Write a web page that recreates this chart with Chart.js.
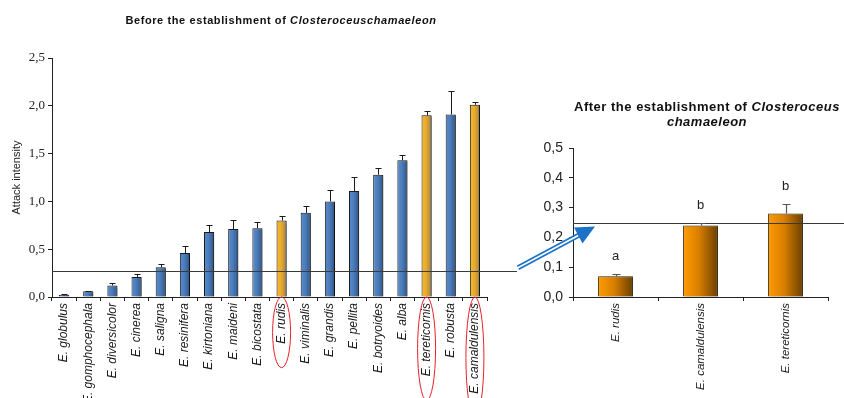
<!DOCTYPE html>
<html>
<head>
<meta charset="utf-8">
<script src="https://cdn.jsdelivr.net/npm/chart.js@4.4.1/dist/chart.umd.min.js"></script>
<style>
  html, body { margin: 0; padding: 0; background: #fff; }
  #wrap { position: relative; width: 844px; height: 398px; overflow: hidden; font-family: "Liberation Sans", Arial, sans-serif; }
  canvas { position: absolute; top: 0; }
  #before { left: 0; }
  #after { left: 520px; }
  #overlay { left: 0; pointer-events: none; }
  .title { position: absolute; font-weight: bold; color: #111; white-space: nowrap; text-align: center; }
  #t1 { left: 0; width: 562px; top: 13px; font-size: 11px; line-height: 14px; letter-spacing: 0.6px; }
  #t2 { left: 557px; width: 300px; top: 99px; font-size: 13px; line-height: 15px; letter-spacing: 0.5px; }
</style>
</head>
<body>
<div id="wrap">
  <canvas id="before" width="530" height="398"></canvas>
  <canvas id="after" width="324" height="398"></canvas>
  <canvas id="overlay" width="844" height="398"></canvas>
  <div class="title" id="t1">Before the establishment of <i>Closteroceuschamaeleon</i></div>
  <div class="title" id="t2">After the establishment of <i>Closteroceus</i><br><i>chamaeleon</i></div>
</div>
<script>
// ---- attack intensity before the establishment of the wasp ----
const beforeSpecies = ['E. globulus', 'E. gomphocephala', 'E. diversicolor', 'E. cinerea', 'E. saligna',
  'E. resinifera', 'E. kirtoniana', 'E. maideni', 'E. bicostata', 'E. rudis', 'E. viminalis', 'E. grandis',
  'E. pellita', 'E. botryoides', 'E. alba', 'E. tereticornis', 'E. robusta', 'E. camaldulensis'];
const beforeMean  = [0.02, 0.06, 0.12, 0.21, 0.31, 0.46, 0.68, 0.71, 0.72, 0.80, 0.88, 1.00, 1.11, 1.28, 1.43, 1.90, 1.91, 2.01];
const beforeError = [0.01, 0.005, 0.03, 0.03, 0.04, 0.07, 0.07, 0.10, 0.06, 0.05, 0.07, 0.12, 0.15, 0.07, 0.06, 0.05, 0.24, 0.03];
const highlighted = ['E. rudis', 'E. tereticornis', 'E. camaldulensis'];
const beforeTicks = ['0,0', '0,5', '1,0', '1,5', '2,0', '2,5'];
const beforeThreshold = 0.275;

// ---- attack intensity after the establishment ----
const afterSpecies = ['E. rudis', 'E. camaldulensis', 'E. tereticornis'];
const afterMean    = [0.07, 0.24, 0.28];
const afterError   = [0.007, 0.007, 0.032];
const afterGroups  = ['a', 'b', 'b'];
const afterTicks   = ['0,0', '0,1', '0,2', '0,3', '0,4', '0,5'];
const afterThreshold = 0.25;

Chart.defaults.font.family = '"Liberation Sans", Arial, sans-serif';
Chart.defaults.color = '#222';

const BLUE = [[0, '#5A8CCB'], [0.45, '#4B7CBC'], [0.8, '#3A6499'], [1, '#2A4468']];
const GOLD = [[0, '#F6B82A'], [0.45, '#EAAC2A'], [0.8, '#B89040'], [1, '#6F6A62']];
const ORANGE = [[0, '#FF9A00'], [0.45, '#D98000'], [1, '#6A3F00']];

// horizontal left-to-right gradient spanning one bar
function barFill(stopsFor) {
  return (c) => {
    const chart = c.chart;
    const xs = chart.scales.x;
    const fallback = stopsFor(c.dataIndex || 0)[1][1];
    if (!xs || c.dataIndex === undefined) return fallback;
    const ds = chart.data.datasets[0];
    const n = chart.data.labels.length;
    const w = (xs.right - xs.left) / n * ds.barPercentage * ds.categoryPercentage;
    const cx = xs.getPixelForValue(c.dataIndex);
    if (!isFinite(w) || !isFinite(cx) || w <= 0) return fallback;
    const g = chart.ctx.createLinearGradient(cx - w / 2, 0, cx + w / 2, 0);
    stopsFor(c.dataIndex).forEach(([o, col]) => g.addColorStop(o, col));
    return g;
  };
}

// soft drop shadow behind the bars
const barShadow = {
  id: 'barShadow',
  beforeDatasetDraw(chart) {
    const ctx = chart.ctx;
    ctx.save();
    ctx.shadowColor = 'rgba(0,0,0,0.35)';
    ctx.shadowOffsetX = 2;
    ctx.shadowOffsetY = 1;
    ctx.shadowBlur = 2;
  },
  afterDatasetDraw(chart) { chart.ctx.restore(); }
};

// upper half error bars
const errorBars = {
  id: 'errorBars',
  afterDatasetsDraw(chart, args, opts) {
    const meta = chart.getDatasetMeta(0);
    const ys = chart.scales.y;
    const data = chart.data.datasets[0].data;
    const ctx = chart.ctx;
    ctx.save();
    ctx.strokeStyle = opts.color;
    ctx.lineWidth = opts.width;
    meta.data.forEach((bar, i) => {
      const x = Math.round(bar.x) + 0.5;
      const y0 = ys.getPixelForValue(data[i]);
      const y1 = Math.round(ys.getPixelForValue(data[i] + opts.errors[i])) + 0.5;
      ctx.beginPath();
      ctx.moveTo(x, y0);
      ctx.lineTo(x, y1);
      ctx.moveTo(x - opts.cap, y1);
      ctx.lineTo(x + opts.cap, y1);
      ctx.stroke();
      if (opts.letters) {
        ctx.fillStyle = '#222';
        ctx.font = '13px "Liberation Sans", Arial, sans-serif';
        ctx.textAlign = 'center';
        ctx.textBaseline = 'middle';
        ctx.fillText(opts.letters[i], bar.x, y1 - 18);
      }
    });
    ctx.restore();
  }
};

// threshold reference line
const thresholdLine = {
  id: 'thresholdLine',
  afterDatasetsDraw(chart, args, opts) {
    const ctx = chart.ctx;
    const y = Math.round(chart.scales.y.getPixelForValue(opts.value)) + 0.5;
    const x1 = opts.toEdge ? chart.width : chart.chartArea.right + opts.extend;
    ctx.save();
    ctx.strokeStyle = '#3a3a3a';
    ctx.lineWidth = 1.2;
    ctx.beginPath();
    ctx.moveTo(chart.chartArea.left, y);
    ctx.lineTo(x1, y);
    ctx.stroke();
    ctx.restore();
  }
};

// red ellipses around selected species names
const labelRings = {
  id: 'labelRings',
  afterDraw(chart, args, opts) {
    const xs = chart.scales.x;
    const ctx = chart.ctx;
    ctx.save();
    ctx.font = 'italic ' + opts.size + 'px "Liberation Sans", Arial, sans-serif';
    ctx.strokeStyle = '#E8202A';
    ctx.lineWidth = 1;
    chart.data.labels.forEach((lab, i) => {
      if (!opts.names.includes(lab)) return;
      const w = ctx.measureText(lab).width;
      const x = xs.getPixelForValue(i);
      const top = xs.top;
      const bottom = xs.top + 6 + w + 24;
      ctx.beginPath();
      ctx.ellipse(x, (top + bottom) / 2, 9, (bottom - top) / 2, 0, 0, Math.PI * 2);
      ctx.stroke();
    });
    ctx.restore();
  }
};

function axes(cfg) {
  return {
    x: {
      offset: true,
      border: { color: '#222', width: 1 },
      grid: { offset: true, drawOnChartArea: false, drawTicks: true, tickLength: 4, color: '#222' },
      ticks: {
        autoSkip: false, minRotation: 90, maxRotation: 90, padding: 2,
        color: '#1a1a1a', font: { size: cfg.labelSize, style: 'italic' }
      },
      afterFit: (s) => { s.height = cfg.xHeight; }
    },
    y: {
      min: 0, max: cfg.max,
      border: { color: '#222', width: 1 },
      grid: { drawOnChartArea: false, drawTicks: true, tickLength: 4, color: '#222' },
      ticks: {
        stepSize: cfg.step, padding: cfg.tickPad, color: '#222',
        font: cfg.tickFont,
        callback: (v, i) => cfg.tickLabels[i]
      },
      title: cfg.title,
      afterFit: (s) => { s.width = cfg.yWidth; }
    }
  };
}

const beforeChart = new Chart(document.getElementById('before'), {
  type: 'bar',
  data: {
    labels: beforeSpecies,
    datasets: [{
      data: beforeMean,
      barPercentage: 0.42,
      categoryPercentage: 1,
      backgroundColor: barFill((i) => highlighted.includes(beforeSpecies[i]) ? GOLD : BLUE),
      borderColor: '#1a1a1a',
      borderWidth: 1
    }]
  },
  options: {
    responsive: false, animation: false, devicePixelRatio: 1,
    layout: { padding: { top: 58, right: 43, left: 0, bottom: 0 } },
    plugins: {
      legend: { display: false }, tooltip: { enabled: false },
      errorBars: { errors: beforeError, cap: 3, color: '#1a1a1a', width: 1 },
      thresholdLine: { value: beforeThreshold, extend: 30 },
      labelRings: { names: highlighted, size: 12 }
    },
    scales: axes({
      max: 2.5, step: 0.5, tickLabels: beforeTicks, tickPad: 3, yWidth: 52, xHeight: 101, labelSize: 12,
      tickFont: { family: '"Liberation Serif", "Times New Roman", serif', size: 13 },
      title: { display: true, text: 'Attack intensity', color: '#222', font: { size: 11 }, padding: { top: 10, bottom: 0 } }
    })
  },
  plugins: [barShadow, thresholdLine, errorBars, labelRings]
});

const afterChart = new Chart(document.getElementById('after'), {
  type: 'bar',
  data: {
    labels: afterSpecies,
    datasets: [{
      data: afterMean,
      barPercentage: 0.41,
      categoryPercentage: 1,
      backgroundColor: barFill(() => ORANGE),
      borderColor: '#3a2a10',
      borderWidth: 1
    }]
  },
  options: {
    responsive: false, animation: false, devicePixelRatio: 1,
    layout: { padding: { top: 148, right: 16, left: 0, bottom: 0 } },
    plugins: {
      legend: { display: false }, tooltip: { enabled: false },
      errorBars: { errors: afterError, cap: 4, color: '#555', width: 1.2, letters: afterGroups },
      thresholdLine: { value: afterThreshold, toEdge: true }
    },
    scales: axes({
      max: 0.5, step: 0.1, tickLabels: afterTicks, tickPad: 6, yWidth: 53, xHeight: 101, labelSize: 11.5,
      tickFont: { size: 14 },
      title: { display: false }
    })
  },
  plugins: [barShadow, thresholdLine, errorBars]
});

// double-lined arrow linking the two threshold lines
(function drawArrow() {
  const ctx = document.getElementById('overlay').getContext('2d');
  const leftOff = 0, rightOff = 520;
  const sx = leftOff + beforeChart.chartArea.right + 31;
  const sy = beforeChart.scales.y.getPixelForValue(beforeThreshold) - 3;
  const tx = rightOff + afterChart.chartArea.left + 22;
  const ty = afterChart.scales.y.getPixelForValue(afterThreshold) + 4;
  const ang = Math.atan2(ty - sy, tx - sx);
  const headLen = 19, headHalf = 9;
  const bx = tx - headLen * Math.cos(ang), by = ty - headLen * Math.sin(ang);
  const blue = '#1C72C6';
  ctx.lineCap = 'butt';
  ctx.strokeStyle = blue;
  ctx.lineWidth = 5;
  ctx.beginPath(); ctx.moveTo(sx, sy); ctx.lineTo(bx + 2 * Math.cos(ang), by + 2 * Math.sin(ang)); ctx.stroke();
  ctx.strokeStyle = '#fff';
  ctx.lineWidth = 1.6;
  ctx.beginPath(); ctx.moveTo(sx - 1, sy + 0.5); ctx.lineTo(bx, by); ctx.stroke();
  ctx.fillStyle = blue;
  ctx.beginPath();
  ctx.moveTo(tx, ty);
  ctx.lineTo(bx + headHalf * Math.sin(ang), by - headHalf * Math.cos(ang));
  ctx.lineTo(bx - headHalf * Math.sin(ang), by + headHalf * Math.cos(ang));
  ctx.closePath();
  ctx.fill();
})();
</script>
</body>
</html>
